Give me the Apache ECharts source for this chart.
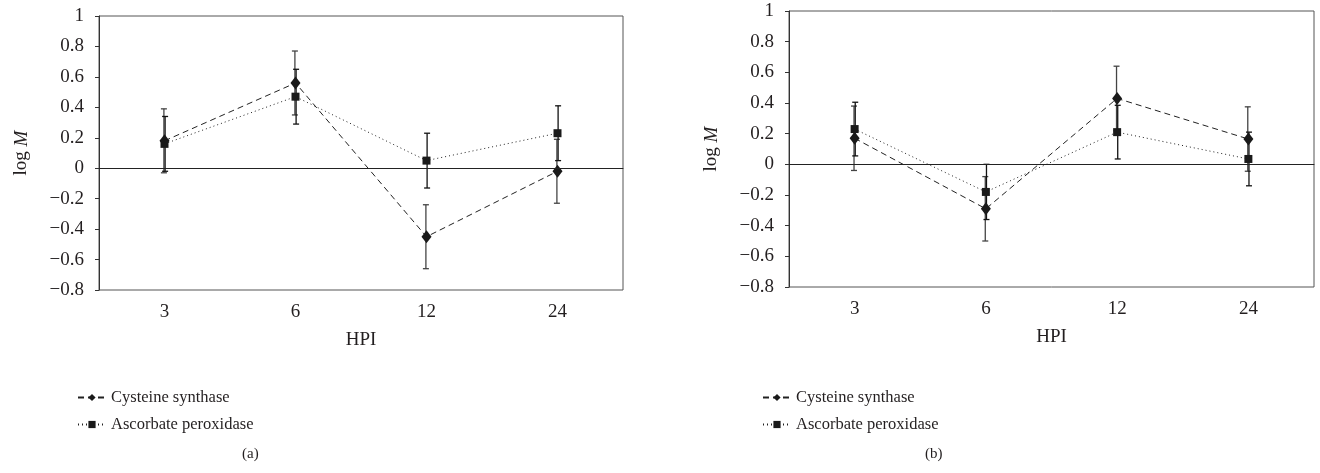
<!DOCTYPE html>
<html><head><meta charset="utf-8">
<script src="https://cdn.jsdelivr.net/npm/echarts@6/dist/echarts.min.js"></script>
<style>html,body{margin:0;padding:0;background:#fff}#c{width:1320px;height:473px}</style>
</head><body><div id="c"></div>
<script>
const categories = ['3', '6', '12', '24'];
const seriesNames = ['Cysteine synthase', 'Ascorbate peroxidase'];
const panelLabels = ['(a)', '(b)'];
// Panel (a)
const csA = [0.18, 0.56, -0.45, -0.02];
const csErrA = [0.21, 0.21, 0.21, 0.21];
const apA = [0.16, 0.47, 0.05, 0.23];
const apErrA = [0.18, 0.18, 0.18, 0.18];
// Panel (b)
const csB = [0.17, -0.29, 0.43, 0.165];
const csErrB = [0.21, 0.21, 0.21, 0.21];
const apB = [0.23, -0.18, 0.21, 0.035];
const apErrB = [0.175, 0.18, 0.175, 0.175];

const FONT = 'Liberation Serif';
const TXT = '#231f20';
const AX = 19;

function errData(vals, errs) { return vals.map((v, i) => [i, v - errs[i], v + errs[i]]); }
function errSeries(name, idx, vals, errs, color, off) {
  return {
    type: 'custom', name: name, xAxisIndex: idx, yAxisIndex: idx, z: 1, silent: true,
    data: errData(vals, errs), encode: { x: 0, y: [1, 2] },
    renderItem: function (params, api) {
      const lo = api.coord([api.value(0), api.value(1)]);
      const hi = api.coord([api.value(0), api.value(2)]);
      const x = lo[0] + off, w = 3;
      const st = { stroke: color, lineWidth: 1.3 };
      return { type: 'group', children: [
        { type: 'line', shape: { x1: x, y1: lo[1], x2: x, y2: hi[1] }, style: st },
        { type: 'line', shape: { x1: x - w, y1: lo[1], x2: x + w, y2: lo[1] }, style: st },
        { type: 'line', shape: { x1: x - w, y1: hi[1], x2: x + w, y2: hi[1] }, style: st }
      ]};
    }
  };
}
function lineSeries(name, idx, vals, symbol, size, dash, zeroLine) {
  const s = {
    type: 'line', name: name, xAxisIndex: idx, yAxisIndex: idx, data: vals, z: 3,
    symbol: symbol, symbolSize: size, showSymbol: true,
    lineStyle: { color: '#222', width: 1, type: dash },
    itemStyle: { color: '#1a1a1a' }
  };
  if (zeroLine) {
    s.markLine = { silent: true, symbol: 'none', label: { show: false },
      lineStyle: { color: '#222', type: 'solid', width: 1 }, data: [{ yAxis: 0 }] };
  }
  return s;
}
function fmt(v) { const n = Number(v.toFixed(1)); return n < 0 ? '\u2212' + Math.abs(n) : String(n); }

const grids = [
  { left: 99, top: 16, width: 524, height: 274 },
  { left: 789, top: 11, width: 525, height: 276 }
];

const option = {
  animation: false,
  backgroundColor: '#fff',
  textStyle: { fontFamily: FONT, color: TXT },
  grid: grids.map(g => Object.assign({ show: true, borderColor: '#555', borderWidth: 1 }, g)),
  xAxis: [0, 1].map(i => ({
    type: 'category', gridIndex: i, data: categories, boundaryGap: true,
    name: 'HPI', nameLocation: 'middle', nameGap: 41,
    nameTextStyle: { fontFamily: FONT, fontSize: AX, color: TXT },
    axisLine: { lineStyle: { color: '#333', width: 1 } },
    axisTick: { show: false },
    axisLabel: { fontFamily: FONT, fontSize: AX, color: TXT, margin: 13 },
    splitLine: { show: false }
  })),
  yAxis: [0, 1].map(i => ({
    type: 'value', gridIndex: i, min: -0.8, max: 1, interval: 0.2,
    name: '{n|log }{m|M}', nameLocation: 'middle', nameGap: 68, nameRotate: 90,
    nameTextStyle: { fontFamily: FONT, fontSize: AX, color: TXT,
      rich: { n: { fontFamily: FONT, fontSize: AX, color: TXT },
              m: { fontFamily: FONT, fontSize: AX, color: TXT, fontStyle: 'italic' } } },
    axisLine: { show: true, lineStyle: { color: '#333', width: 1 } },
    axisTick: { show: true, length: 4, lineStyle: { color: '#333' } },
    axisLabel: { fontFamily: FONT, fontSize: AX, color: TXT, margin: 15, formatter: fmt },
    splitLine: { show: false }
  })),
  legend: [
    { left: 72, top: 384, orient: 'vertical', itemGap: 10, itemWidth: 28, itemHeight: 9,
      data: seriesNames, selectedMode: false,
      textStyle: { fontFamily: FONT, fontSize: 16.5, color: TXT } },
    { left: 757, top: 384, orient: 'vertical', itemGap: 10, itemWidth: 28, itemHeight: 9,
      data: seriesNames, selectedMode: false,
      textStyle: { fontFamily: FONT, fontSize: 16.5, color: TXT } }
  ],
  title: [
    { text: panelLabels[0], left: 237, top: 442, textStyle: { fontFamily: FONT, fontSize: 15, fontWeight: 'normal', color: TXT } },
    { text: panelLabels[1], left: 920, top: 442, textStyle: { fontFamily: FONT, fontSize: 15, fontWeight: 'normal', color: TXT } }
  ],
  series: [
    errSeries('errCsA', 0, csA, csErrA, '#444', -0.6),
    errSeries('errApA', 0, apA, apErrA, '#111', 0.6),
    lineSeries(seriesNames[0], 0, csA, 'diamond', [10, 13], [6, 4], true),
    lineSeries(seriesNames[1], 0, apA, 'rect', 8, [1, 3], false),
    errSeries('errCsB', 1, csB, csErrB, '#444', -0.6),
    errSeries('errApB', 1, apB, apErrB, '#111', 0.6),
    lineSeries(seriesNames[0], 1, csB, 'diamond', [10, 13], [6, 4], true),
    lineSeries(seriesNames[1], 1, apB, 'rect', 8, [1, 3], false)
  ]
};
const chart = echarts.init(document.getElementById('c'), null, { renderer: 'canvas' });
chart.setOption(option);
</script></body></html>
